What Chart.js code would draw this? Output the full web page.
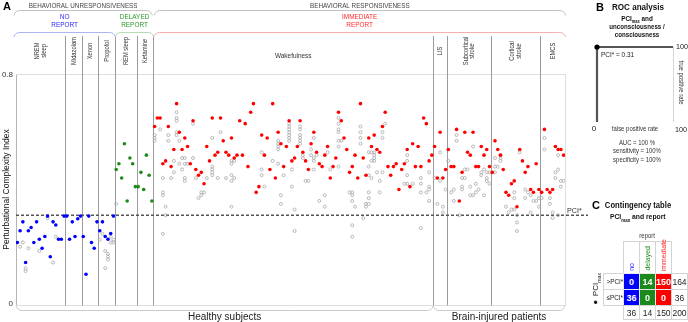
<!DOCTYPE html>
<html>
<head>
<meta charset="utf-8">
<script src="https://cdn.jsdelivr.net/npm/chart.js@4.4.0/dist/chart.umd.min.js"></script>
<style>
  body { margin: 0; background: #fff; width: 688px; height: 322px; position: relative; overflow: hidden;
         font-family: "Liberation Sans", Arial, sans-serif; color: #222; }
  #main { position: absolute; left: 0; top: 0; }
  #roc { position: absolute; left: 588px; top: 0; }
  .abs { position: absolute; white-space: nowrap; display: flex; align-items: center; justify-content: center; box-sizing: border-box; }
  .cx { display: inline-block; transform: scaleX(.85); }
  .vt { writing-mode: vertical-rl; transform: rotate(180deg); }
  sub { font-size: 65%; }
</style>
</head>
<body>
<canvas id="main" width="590" height="322"></canvas>
<canvas id="roc" width="100" height="172"></canvas>
<div id="panelC"></div>
<script>
// --- data -------------------------------------------------------------
var groupLabels = [['NREM', 'sleep'], ['Midazolam'], ['Xenon'], ['Propofol'], ['REM sleep'], ['Ketamine'],
                   ['Wakefulness'], ['LIS'], ['Subcortical', 'stroke'], ['Cortical', 'stroke'], ['EMCS']];
var groupSizes = [18, 6, 6, 6, 8, 6, 102, 5, 16, 18, 9];

var behaviorLabels = ['BEHAVIORAL UNRESPONSIVENESS', 'BEHAVIORAL RESPONSIVENESS'];
var behaviorSizes = [50, 150];
var reportLabels = [['NO', 'REPORT'], ['DELAYED', 'REPORT'], ['IMMEDIATE', 'REPORT']];
var populationLabels = ['Healthy subjects', 'Brain-injured patients'];
var populationSizes = [152, 48];

var pciStar = 0.31;

// PCImax per subject (subjects numbered left to right)
var pciMaxNoReport = [0.215, 0.256, 0.287, 0.145, 0.256, 0.267, 0.215, 0.287, 0.226, 0.195, 0.236, 0.307,
                      0.165, 0.287, 0.276, 0.226, 0.226, 0.307,
                      0.307, 0.226, 0.287, 0.236, 0.298, 0.307,
                      0.236, 0.104, 0.307, 0.215, 0.195, 0.287,
                      0.256, 0.287, 0.236, 0.226, 0.246, 0.307];
var pciMaxDelayed = [0.47, 0.49, 0.44, 0.56, 0.36, 0.51, 0.49, 0.41,
                     0.41, 0.46, 0.40, 0.52, 0.45, 0.36];
var pciMaxImmediate = [
  0.62, 0.65, 0.65, 0.49, 0.50, 0.62, 0.48, 0.54, 0.70, 0.60,
  0.54, 0.58, 0.55, 0.49, 0.64, 0.47, 0.45, 0.46, 0.42, 0.55,
  0.50, 0.65, 0.52, 0.53, 0.65, 0.57, 0.53, 0.52, 0.58, 0.51,
  0.52, 0.64, 0.52, 0.63, 0.48, 0.67, 0.70, 0.39, 0.41, 0.59,
  0.52, 0.58, 0.47, 0.70, 0.44, 0.60, 0.56, 0.48, 0.55, 0.64,
  0.50, 0.51, 0.55, 0.64, 0.53, 0.50, 0.47, 0.56, 0.60, 0.53,
  0.49, 0.48, 0.52, 0.55, 0.44, 0.48, 0.51, 0.67, 0.64, 0.58,
  0.54, 0.46, 0.48, 0.52, 0.44, 0.70, 0.51, 0.45, 0.58, 0.55,
  0.59, 0.54, 0.53, 0.62, 0.67, 0.48, 0.45, 0.48, 0.49, 0.40,
  0.47, 0.49, 0.54, 0.41, 0.56, 0.48, 0.55, 0.48, 0.65, 0.63,
  0.50, 0.52,
  0.55, 0.44, 0.60, 0.44, 0.47,
  0.54, 0.48, 0.48, 0.61, 0.36, 0.46, 0.60, 0.53, 0.52, 0.60, 0.48, 0.48, 0.55, 0.52, 0.54, 0.48,
  0.46, 0.57, 0.54, 0.52, 0.47, 0.39, 0.38, 0.42, 0.43, 0.34, 0.54, 0.50, 0.46, 0.48, 0.40, 0.39, 0.49, 0.40,
  0.39, 0.61, 0.40, 0.39, 0.40, 0.55, 0.54, 0.54, 0.52];

// other sessions of the same subject: [subject, values...]
var otherSessions = [
  [2, 0.20], [3, 0.215], [4, 0.125, 0.115], [5, 0.195], [9, 0.185], [12, 0.30], [14, 0.145], [15, 0.235],
  [31, 0.225], [32, 0.245], [33, 0.185, 0.125], [34, 0.175, 0.165, 0.155], [35, 0.215, 0.235], [36, 0.215, 0.225],
  [37, 0.35],
  [51, 0.59, 0.58, 0.57], [53, 0.61], [54, 0.44, 0.39, 0.38, 0.245], [55, 0.34, 0.31], [56, 0.59, 0.57],
  [57, 0.44], [58, 0.50, 0.46], [59, 0.67, 0.65, 0.64, 0.60, 0.59], [60, 0.57, 0.49], [61, 0.51, 0.47],
  [62, 0.51, 0.49, 0.44, 0.43], [63, 0.49], [65, 0.63, 0.51], [66, 0.44], [67, 0.37], [68, 0.38, 0.39],
  [69, 0.39], [70, 0.44], [72, 0.58, 0.48, 0.47, 0.46, 0.45], [74, 0.44], [75, 0.60], [77, 0.44],
  [79, 0.50, 0.49, 0.45, 0.43, 0.34], [80, 0.50, 0.44], [90, 0.53, 0.47, 0.45], [91, 0.41], [94, 0.50],
  [96, 0.57, 0.56, 0.55, 0.54, 0.49], [97, 0.38, 0.35], [98, 0.45],
  [100, 0.63, 0.62, 0.61, 0.60, 0.59, 0.58, 0.57], [101, 0.47, 0.41], [102, 0.33, 0.255],
  [104, 0.62, 0.61, 0.59, 0.58, 0.57, 0.56], [105, 0.52, 0.51], [106, 0.43], [107, 0.43], [108, 0.54, 0.52],
  [109, 0.58, 0.51, 0.50, 0.47], [110, 0.52], [111, 0.36], [113, 0.38, 0.34], [114, 0.53], [115, 0.47],
  [118, 0.65, 0.63, 0.61, 0.60, 0.57, 0.55, 0.48], [119, 0.57], [122, 0.39],
  [123, 0.39, 0.38, 0.36, 0.275, 0.235], [124, 0.34], [126, 0.62, 0.60, 0.58, 0.56], [127, 0.30],
  [128, 0.35, 0.34], [129, 0.53, 0.48, 0.45, 0.39, 0.37, 0.35], [130, 0.53, 0.50, 0.44],
  [131, 0.53, 0.52, 0.51, 0.50], [132, 0.46], [133, 0.43, 0.39], [134, 0.60, 0.58, 0.46], [135, 0.63],
  [142, 0.42], [143, 0.52, 0.50, 0.45, 0.42], [145, 0.42], [148, 0.44, 0.42, 0.39, 0.265], [150, 0.39],
  [151, 0.46, 0.41, 0.40, 0.36],
  [153, 0.44], [154, 0.35], [155, 0.53, 0.43], [156, 0.34, 0.32], [157, 0.40],
  [158, 0.50], [159, 0.39], [160, 0.40, 0.36], [161, 0.59, 0.57], [162, 0.31], [163, 0.44, 0.41, 0.40],
  [164, 0.47, 0.44], [165, 0.47], [166, 0.41, 0.38], [167, 0.55, 0.38], [168, 0.42, 0.39], [169, 0.40],
  [170, 0.46, 0.45], [171, 0.47, 0.38], [172, 0.46, 0.44, 0.43], [173, 0.46, 0.42],
  [175, 0.51, 0.48, 0.46], [176, 0.48], [177, 0.52, 0.51, 0.50], [179, 0.34], [180, 0.32], [181, 0.33],
  [182, 0.39, 0.37, 0.33], [183, 0.31, 0.285, 0.255], [184, 0.53], [186, 0.40, 0.37], [187, 0.39],
  [188, 0.38, 0.32], [189, 0.36], [190, 0.36], [191, 0.37, 0.34],
  [192, 0.37], [193, 0.58, 0.54], [195, 0.37, 0.35], [196, 0.32, 0.30], [197, 0.46, 0.44],
  [198, 0.52, 0.47, 0.31], [199, 0.43, 0.41], [200, 0.43]];

// ROC (panel B)
var rocFPR = [0, 0, 100];
var rocTPR = [0, 100, 100];

// contingency table (panel C)
var tableCols = ['no', 'delayed', 'immediate'];
var tableRows = ['>PCI*', '\u2264PCI*'];
var aboveCounts = [0, 14, 150];
var belowCounts = [36, 0, 0];

// --- helpers ----------------------------------------------------------
var FONT = '"Liberation Sans", Arial, sans-serif';
var BLUE = '#0000ff', GREEN = '#1b8a1b', RED = '#ff0000';

function drawText(ctx, parts, x, y, o) {
    o = o || {};
    if (typeof parts === 'string') parts = [{ t: parts }];
    var size = o.size || 7, sx = o.sx || 1, weight = o.bold ? 'bold ' : '';
    ctx.save();
    ctx.translate(x, y);
    if (o.rot) ctx.rotate(o.rot);
    ctx.scale(sx, 1);
    ctx.fillStyle = o.color || '#333';
    ctx.textBaseline = 'middle';
    ctx.textAlign = 'left';
    var fontOf = function (p) { return weight + (p.sub ? size * 0.62 : size) + 'px ' + FONT; };
    var total = 0;
    parts.forEach(function (p) { ctx.font = fontOf(p); total += ctx.measureText(p.t).width; });
    var cx = o.align === 'left' ? 0 : (o.align === 'right' ? -total : -total / 2);
    parts.forEach(function (p) {
        ctx.font = fontOf(p);
        ctx.fillText(p.t, cx, p.sub ? size * 0.3 : 0);
        cx += ctx.measureText(p.t).width;
    });
    ctx.restore();
}

function bracket(ctx, x0, x1, yTip, yBar, color) {
    var r = 6;
    ctx.save();
    ctx.strokeStyle = color;
    ctx.lineWidth = 1;
    ctx.beginPath();
    ctx.moveTo(x0, yTip);
    ctx.quadraticCurveTo(x0 + 1, yBar, x0 + r, yBar);
    ctx.lineTo(x1 - r, yBar);
    ctx.quadraticCurveTo(x1 - 1, yBar, x1, yTip);
    ctx.stroke();
    ctx.restore();
}

function ranges(sizes) {
    var out = [], start = 0.5;
    sizes.forEach(function (n) { out.push([start, start + n]); start += n; });
    return out;
}

// --- panel A ----------------------------------------------------------
var subj = 0;
var toPts = function (v) { subj += 1; return { x: subj, y: v }; };
var noPts = pciMaxNoReport.map(toPts);
var delayedPts = pciMaxDelayed.map(toPts);
var immediatePts = pciMaxImmediate.map(toPts);
var otherPts = [];
otherSessions.forEach(function (row) {
    for (var i = 1; i < row.length; i++) otherPts.push({ x: row[0], y: row[i] });
});

var decor = {
    id: 'decor',
    beforeDatasetsDraw: function (chart) {
        var ctx = chart.ctx, a = chart.chartArea, x = chart.scales.x, y = chart.scales.y;
        ctx.save();
        // light frame
        ctx.strokeStyle = '#dedede';
        ctx.lineWidth = 1;
        ctx.beginPath();
        ctx.moveTo(a.left, a.top - 0.5);
        ctx.lineTo(a.right + 0.5, a.top - 0.5);
        ctx.lineTo(a.right + 0.5, a.bottom + 1.5);
        ctx.lineTo(a.left, a.bottom + 1.5);
        ctx.stroke();
        // group separators
        ctx.strokeStyle = '#9c9c9c';
        var gr = ranges(groupSizes);
        for (var i = 1; i < gr.length; i++) {
            var px = Math.round(x.getPixelForValue(gr[i][0])) + 0.5;
            ctx.beginPath();
            ctx.moveTo(px, 36);
            ctx.lineTo(px, a.bottom + 1.5);
            ctx.stroke();
        }
        // PCI* threshold
        var py = y.getPixelForValue(pciStar);
        ctx.strokeStyle = '#555';
        ctx.lineWidth = 1.3;
        ctx.setLineDash([3, 2]);
        ctx.beginPath();
        ctx.moveTo(a.left, py);
        ctx.lineTo(a.right + 23, py);
        ctx.stroke();
        ctx.restore();
    },
    afterDraw: function (chart) {
        var ctx = chart.ctx, a = chart.chartArea, x = chart.scales.x, y = chart.scales.y;
        var px = function (v) { return x.getPixelForValue(v); };

        drawText(ctx, 'A', 3, 7, { size: 11, bold: true, color: '#000', align: 'left' });

        // behaviour brackets
        var br = ranges(behaviorSizes);
        br.forEach(function (r, i) {
            var x0 = px(r[0]) + (i === 0 ? -2 : 1), x1 = px(r[1]) + (i === 0 ? -1 : 0.5);
            bracket(ctx, x0, x1, 15.5, 10.5, '#c2c2c2');
            drawText(ctx, behaviorLabels[i], (x0 + x1) / 2, 6, { size: 7, sx: 0.9, color: '#444' });
        });

        // report brackets
        var rr = ranges([pciMaxNoReport.length, pciMaxDelayed.length, pciMaxImmediate.length]);
        var rc = [['#2b2bff', '#aab4f2'], ['#2a9a2a', '#b3dab3'], ['#ff2b2b', '#f6aeae']];
        rr.forEach(function (r, i) {
            var x0 = px(r[0]) + (i === 0 ? -2 : 0.5), x1 = px(r[1]) + 0.5;
            bracket(ctx, x0, x1, 37, 32.5, rc[i][1]);
            reportLabels[i].forEach(function (t, k) {
                drawText(ctx, t, (x0 + x1) / 2, 17.5 + k * 8, { size: 7, sx: 0.92, color: rc[i][0] });
            });
        });

        // group labels
        ranges(groupSizes).forEach(function (r, i) {
            var x0 = px(r[0]), x1 = px(r[1]), cx = (x0 + x1) / 2;
            var lines = groupLabels[i];
            if (x1 - x0 > 80) {
                drawText(ctx, lines.join(' '), cx, 56, { size: 7, sx: 0.92, color: '#333' });
            } else {
                lines.forEach(function (t, k) {
                    drawText(ctx, t, cx + (k - (lines.length - 1) / 2) * 6.6, 51,
                             { size: 7, sx: 0.82, color: '#333', rot: -Math.PI / 2 });
                });
            }
        });

        // population brackets
        ranges(populationSizes).forEach(function (r, i) {
            var x0 = px(r[0]), x1 = px(r[1]);
            bracket(ctx, x0, x1, a.bottom + 1.5, 310.5, '#cdcdcd');
            drawText(ctx, populationLabels[i], (x0 + x1) / 2, 317, { size: 10, color: '#222' });
        });

        drawText(ctx, 'PCI*', a.right + 2, y.getPixelForValue(pciStar) - 4, { size: 8, sx: 0.9, color: '#333', align: 'left' });
    }
};

new Chart(document.getElementById('main'), {
    type: 'scatter',
    data: {
        datasets: [
            { label: 'no report', data: noPts, backgroundColor: BLUE, pointRadius: 1.8, borderWidth: 0 },
            { label: 'delayed report', data: delayedPts, backgroundColor: GREEN, pointRadius: 1.8, borderWidth: 0 },
            { label: 'immediate report', data: immediatePts, backgroundColor: RED, pointRadius: 1.8, borderWidth: 0 },
            { label: 'other sessions', data: otherPts, backgroundColor: 'rgba(255,255,255,0)',
              borderColor: '#a8a8a8', borderWidth: 0.8, pointRadius: 1.5 }
        ]
    },
    options: {
        responsive: false,
        animation: false,
        events: [],
        layout: { padding: { left: 0, top: 75, right: 25, bottom: 18 } },
        plugins: { legend: { display: false }, tooltip: { enabled: false } },
        scales: {
            x: { type: 'linear', min: 0.5, max: 200.5, display: false },
            y: {
                min: 0, max: 0.8,
                afterFit: function (s) { s.width = 16; },
                grid: { display: false, drawTicks: false },
                border: { display: true, color: '#b4b4b4' },
                ticks: {
                    stepSize: 0.8, padding: 3, color: '#333', font: { size: 8, family: FONT },
                    callback: function (v) { return v === 0 ? '0' : v.toFixed(1); }
                },
                title: {
                    display: true, text: 'Perturbational Complexity Index', color: '#111',
                    font: { size: 8.5, family: FONT }, padding: { top: 2, bottom: 0 }
                }
            }
        }
    },
    plugins: [decor]
});

// --- panel B ----------------------------------------------------------
var rocDecor = {
    id: 'rocDecor',
    beforeDatasetsDraw: function (chart) {
        var ctx = chart.ctx, a = chart.chartArea;
        ctx.save();
        ctx.strokeStyle = '#d6d6d6';
        ctx.lineWidth = 1;
        ctx.beginPath();
        ctx.moveTo(a.right + 0.5, a.top);
        ctx.lineTo(a.right + 0.5, a.bottom);
        ctx.stroke();
        ctx.restore();
    },
    afterDraw: function (chart) {
        var ctx = chart.ctx, a = chart.chartArea;
        var mid = 49;
        drawText(ctx, 'B', 12, 8, { size: 11, bold: true, color: '#000' });
        drawText(ctx, 'ROC analysis', mid + 1, 8, { size: 9, bold: true, sx: 0.9, color: '#111' });
        drawText(ctx, [{ t: 'PCI' }, { t: 'max', sub: true }, { t: ' and' }], mid, 19, { size: 7.5, bold: true, sx: 0.85, color: '#111' });
        drawText(ctx, 'unconsciousness /', mid, 27, { size: 7.5, bold: true, sx: 0.82, color: '#111' });
        drawText(ctx, 'consciousness', mid, 35, { size: 7.5, bold: true, sx: 0.82, color: '#111' });
        drawText(ctx, 'PCI* = ' + pciStar.toFixed(2), a.left + 4, a.top + 8, { size: 7, sx: 0.92, color: '#222', align: 'left' });
        drawText(ctx, '100', a.right + 3, a.top, { size: 8, sx: 0.9, color: '#222', align: 'left' });
        drawText(ctx, 'true positive rate', a.right + 8, (a.top + a.bottom) / 2 - 2, { size: 7, sx: 0.85, color: '#333', rot: Math.PI / 2 });
        drawText(ctx, '0', a.left - 3, a.bottom + 7, { size: 8, color: '#222' });
        drawText(ctx, 'false positive rate', (a.left + a.right) / 2, a.bottom + 7, { size: 7, sx: 0.85, color: '#333' });
        drawText(ctx, '100', a.right + 8, a.bottom + 8, { size: 8, sx: 0.9, color: '#222' });
        drawText(ctx, 'AUC = 100 %', mid, 143, { size: 7, sx: 0.85, color: '#333' });
        drawText(ctx, 'sensitivity = 100%', mid, 151.5, { size: 7, sx: 0.85, color: '#333' });
        drawText(ctx, 'specificity = 100%', mid, 160, { size: 7, sx: 0.85, color: '#333' });
    }
};

new Chart(document.getElementById('roc'), {
    type: 'scatter',
    data: {
        datasets: [{
            data: rocFPR.map(function (v, i) { return { x: v, y: rocTPR[i] }; }),
            showLine: true, borderColor: '#555', borderWidth: 2.2,
            pointRadius: [0, 2.6, 0], pointBackgroundColor: '#000', pointBorderWidth: 0, clip: false
        }]
    },
    options: {
        responsive: false,
        animation: false,
        events: [],
        layout: { padding: { left: 9, right: 15, top: 47, bottom: 50 } },
        plugins: { legend: { display: false }, tooltip: { enabled: false } },
        scales: {
            x: { min: 0, max: 100, display: false },
            y: { min: 0, max: 100, display: false }
        }
    },
    plugins: [rocDecor]
});

// --- panel C ----------------------------------------------------------
var pc = document.getElementById('panelC');
function put(html, x, y, w, h, css) {
    var d = document.createElement('div');
    d.className = 'abs';
    d.style.cssText = 'left:' + x + 'px;top:' + y + 'px;width:' + w + 'px;height:' + h + 'px;' + (css || '');
    d.innerHTML = html;
    pc.appendChild(d);
    return d;
}
var colX = [623, 639, 655], totX = 671, rowY = [273, 289], totY = 305;
var headColors = ['#2020ff', '#1e8c1e', '#ff2020'];
var fills = [BLUE, GREEN, RED];
var cellBorder = 'border:1px solid #d4d4d4;';

put('C', 590, 198, 12, 14, 'font-weight:bold;font-size:11px;color:#000');
put('<span class="cx">Contingency table</span>', 600, 199, 76, 12, 'font-weight:bold;font-size:9px;color:#111');
put('<span class="cx">PCI<sub>max</sub> and report</span>', 600, 211, 76, 12, 'font-weight:bold;font-size:8px;color:#111');
put('<span class="cx">report</span>', 623, 230, 48, 10, 'font-size:7px;color:#333');

tableCols.forEach(function (c, i) {
    put('<span class="vt">' + c + '</span>', colX[i], 241, 17, 33,
        cellBorder + 'align-items:flex-end;padding-bottom:2px;font-size:7px;color:' + headColors[i]);
});
[aboveCounts, belowCounts].forEach(function (counts, r) {
    var label = tableRows[r].replace('>', '&gt;');
    put('<span class="cx">' + label + '</span>', 603, rowY[r], 21, 17, cellBorder + 'justify-content:flex-start;padding-left:1px;font-size:7.5px;color:#222');
    var sum = 0;
    counts.forEach(function (n, c) {
        sum += n;
        put(String(n), colX[c], rowY[r], 17, 17,
            'border:1px solid #e8e8e8;background:' + fills[c] + ';color:#fff;font-weight:bold;font-size:9px');
    });
    put(String(sum), totX, rowY[r], 17, 17, cellBorder + 'font-size:8.5px;color:#222');
});
var grand = 0;
tableCols.forEach(function (c, i) {
    var n = aboveCounts[i] + belowCounts[i];
    grand += n;
    put(String(n), colX[i], totY, 17, 15, cellBorder + 'font-size:8.5px;color:#222');
});
put(String(grand), totX, totY, 17, 15, cellBorder + 'font-size:8.5px;color:#222');
put('<span class="vt">\u25CF PCI<sub>max</sub></span>', 590, 274, 12, 32, 'font-size:8px;color:#222');
</script>
</body>
</html>
